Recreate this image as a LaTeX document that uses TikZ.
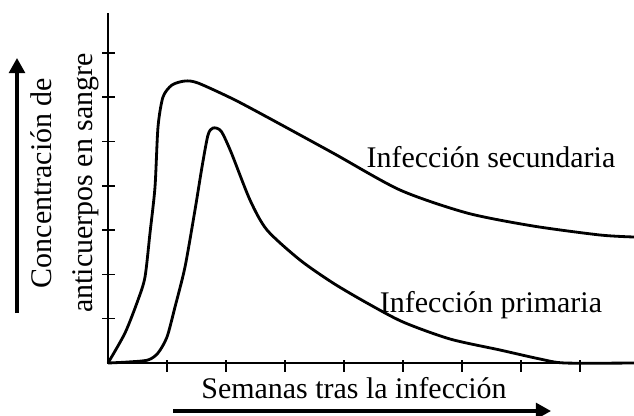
\documentclass[tikz,border=0pt]{standalone}
\usepackage{fontspec}
\setmainfont{Liberation Serif}
\usetikzlibrary{arrows.meta}

\begin{document}
\begin{tikzpicture}[x=0.025cm, y=-0.025cm, line width=1.1pt,
	font=\fontsize{21.3}{29.2}\selectfont,
	bigarrow/.style={line width=2.2pt, -{Triangle[length=0.38cm,width=0.4cm]}},
	curve/.style={line width=2pt, line join=round}]
	\useasboundingbox (0,0) rectangle (634,416);

	% axes and ticks
	\draw (108,13) -- (108,363) -- (634,363);
	\foreach \i in {1,...,7} \draw (102,363-44.3*\i) -- (115,363-44.3*\i);
	\foreach \i in {1,...,8} \draw (108+59*\i,360) -- (108+59*\i,372);

	% secondary response
	\draw [curve] plot [smooth, tension=0.45] coordinates {(108,363) (125,333) (138,300)
		(145,277) (150,233) (155,187) (158,127) (163,97) (172,85) (185,81) (198,83)
		(233,99) (267,117) (333,153) (400,190) (467,213) (533,226) (600,235) (634,237)};

	% primary response
	\draw [curve] plot [smooth, tension=0.45] coordinates {(108,363) (128,362) (148,360)
		(158,353) (167,337) (175,307) (185,267) (195,210) (202,167) (208,135) (213,128)
		(221,131) (231,152) (250,200) (267,230) (300,260) (333,283) (367,303)
		(403,322) (450,339) (500,350) (540,359) (565,363) (634,363)};

	\node [anchor=base] (sec) at (491,167) {Infección secundaria};
	\node [anchor=base] (prim) at (491,312) {Infección primaria};

	% axis labels
	\node [anchor=base] (xlabel) at (354,398) {Semanas tras la infección};
	\node [rotate=90, align=center] (ylabel) at (65,183) {Concentración de\\anticuerpos en sangre};

	\coordinate (xtail) at (173,411);
	\coordinate (xhead) at (551,411);
	\coordinate (ytail) at (17,313);
	\coordinate (yhead) at (17,58);
	\draw [bigarrow] (xtail) -- (xhead);
	\draw [bigarrow] (ytail) -- (yhead);

\end{tikzpicture}
\end{document}
